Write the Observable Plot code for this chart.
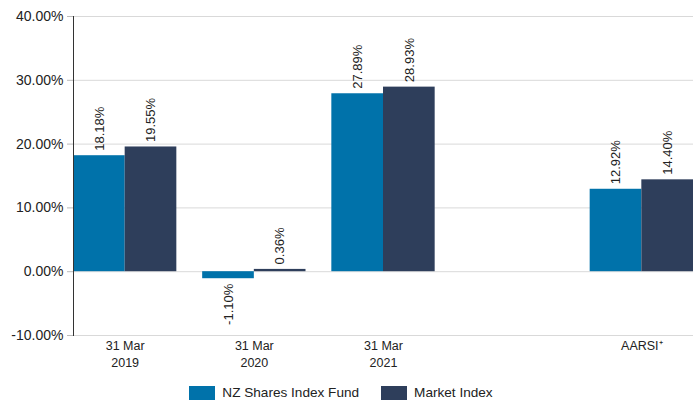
<!DOCTYPE html>
<html>
<head>
<meta charset="utf-8">
<script src="https://cdn.jsdelivr.net/npm/d3@7"></script>
<script src="https://cdn.jsdelivr.net/npm/@observablehq/plot@0.6"></script>
<style>
  html, body { margin: 0; padding: 0; background: #fff; }
  body { width: 696px; height: 400px; overflow: hidden; font-family: "Liberation Sans", Arial, sans-serif; }
  #legend { display: flex; justify-content: center; gap: 22px; margin-top: 6px; padding-right: 14px; font-size: 13.6px; line-height: 14px; color: #222; }
  .item { display: flex; align-items: center; gap: 7px; }
  .sw { width: 26px; height: 14px; display: inline-block; }
</style>
</head>
<body>
<div id="chart"></div>
<div id="legend"></div>
<script>
const categories = ["31 Mar\n2019", "31 Mar\n2020", "31 Mar\n2021", "", "AARSI\u207A"];
const series = ["NZ Shares Index Fund", "Market Index"];
const fundValues = [18.18, -1.10, 27.89, null, 12.92];
const marketValues = [19.55, 0.36, 28.93, null, 14.40];
const yTicks = [-10, 0, 10, 20, 30, 40];
const colors = ["#0072aa", "#2e3e5b"];

const rows = [];
categories.forEach((c, i) => {
  if (fundValues[i] != null) rows.push({category: c, series: series[0], value: fundValues[i]});
  if (marketValues[i] != null) rows.push({category: c, series: series[1], value: marketValues[i]});
});

const W = 696, H = 380, ML = 73, MR = 3, MT = 16, MB = 45;
const padInner = 0.2;
const step = (W - ML - MR) / (categories.length - padInner);
const bw = step * (1 - padInner);
const half = bw / 2;

const fundRows = rows.filter(d => d.series === series[0]);
const mktRows = rows.filter(d => d.series === series[1]);
const fmt = d => d.value.toFixed(2) + "%";
const font = "Liberation Sans, Arial, sans-serif";

function labels(data, dx) {
  return [
    Plot.text(data.filter(d => d.value >= 0), {x: "category", y: "value", text: fmt, rotate: -90, textAnchor: "start", dx, dy: -5, fill: "#222", fontSize: 13}),
    Plot.text(data.filter(d => d.value < 0), {x: "category", y: "value", text: fmt, rotate: -90, textAnchor: "end", dx, dy: 5, fill: "#222", fontSize: 13})
  ];
}

const chart = Plot.plot({
  width: W, height: H,
  marginLeft: ML, marginRight: MR, marginTop: MT, marginBottom: MB,
  style: {fontFamily: font, background: "#fff"},
  x: {domain: categories, paddingInner: padInner, paddingOuter: 0, round: false, label: null},
  y: {domain: [-10, 40], label: null},
  color: {domain: series, range: colors},
  marks: [
    Plot.gridY(yTicks, {stroke: "#d9d9d9", strokeOpacity: 1}),
    Plot.axisY(yTicks, {tickFormat: d => d.toFixed(2) + "%", tickSize: 6, tickPadding: 4, stroke: "#bbb", fill: "#222", fontSize: 14, label: null}),
    Plot.axisX({tickSize: 0, tickPadding: 3, fontSize: 12.5, fill: "#222", lineHeight: 1.35, label: null}),
    Plot.barY(fundRows, {x: "category", y: "value", fill: "series", insetLeft: 0, insetRight: half}),
    Plot.barY(mktRows, {x: "category", y: "value", fill: "series", insetLeft: half, insetRight: 0}),
    ...labels(fundRows, -half / 2),
    ...labels(mktRows, half / 2),
    Plot.frame({anchor: "left", stroke: "#333"})
  ]
});
document.getElementById("chart").appendChild(chart);

const legend = document.getElementById("legend");
series.forEach((s, i) => {
  const item = document.createElement("div");
  item.className = "item";
  const sw = document.createElement("span");
  sw.className = "sw";
  sw.style.background = colors[i];
  const t = document.createElement("span");
  t.textContent = s;
  item.appendChild(sw);
  item.appendChild(t);
  legend.appendChild(item);
});
</script>
</body>
</html>
